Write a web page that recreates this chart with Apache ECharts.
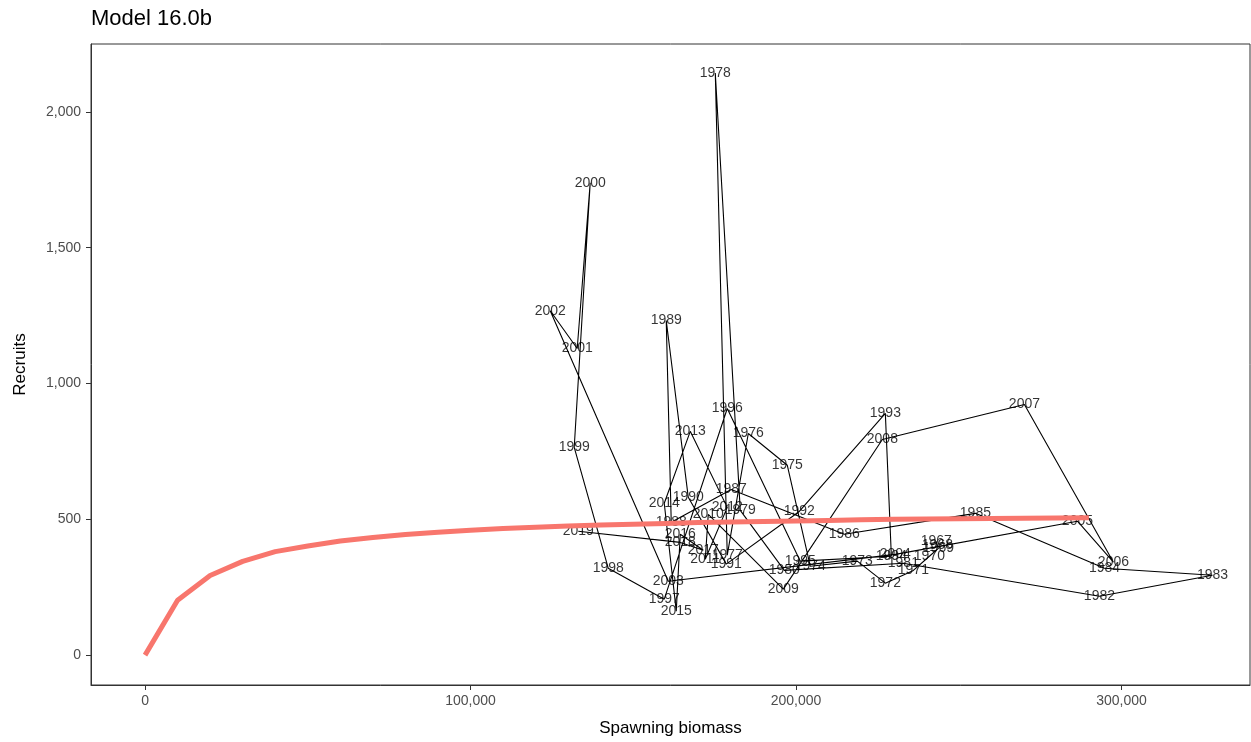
<!DOCTYPE html>
<html>
<head>
<meta charset="utf-8">
<script src="https://cdn.jsdelivr.net/npm/echarts@6/dist/echarts.min.js"></script>
<style>
  html, body { margin: 0; padding: 0; background: #fff; }
  #chart { width: 1251px; height: 742px; }
</style>
</head>
<body>
<div id="chart"></div>
<script>
const years = [1967,1968,1969,1970,1971,1972,1973,1974,1975,1976,1977,1978,1979,1980,1981,1982,1983,1984,1985,1986,1987,1988,1989,1990,1991,1992,1993,1994,1995,1996,1997,1998,1999,2000,2001,2002,2003,2004,2005,2006,2007,2008,2009,2010,2011,2012,2013,2014,2015,2016,2017,2018,2019];
const ssb = [243100,243450,243760,240990,236070,227460,218850,204410,197340,185350,178890,175210,182890,196420,232990,293240,327970,294780,255130,214860,180120,161680,160140,166910,178590,201030,227460,229310,201330,178890,159530,142320,131870,136780,132790,124490,160760,230530,286480,297540,270190,226540,196110,173050,172130,178890,167520,159530,163220,164450,171520,164450,133100];
const recruits = [419,404,393,364,312,265,346,327,699,816,368,2143,533,312,338,217,294,320,522,445,610,489,1232,581,335,529,890,364,346,908,206,320,765,1739,1129,1268,272,371,493,342,923,794,243,518,353,544,824,559,162,445,386,415,456];

const curveSSB = [0,10000,20000,30000,40000,50000,60000,70000,80000,90000,100000,110000,120000,130000,140000,150000,160000,170000,180000,190000,200000,210000,220000,230000,240000,250000,260000,270000,280000,290000];
const curveRecruits = [0,202,293,345,381,402,420,433,444,452,460,466,471,475,479,482,485,488,490,492,494,496,498,500,501,502,503,504,505,506];

const xTicks = [0,100000,200000,300000];
const yTicks = [0,500,1000,1500,2000];

const fmt = v => Number(v).toLocaleString('en-US');
const FONT = "'Liberation Sans', Arial, Helvetica, sans-serif";

const pathData = years.map((y, i) => [ssb[i], recruits[i]]);
const labelData = years.map((y, i) => [ssb[i], recruits[i], String(y)]);
const curveData = curveSSB.map((s, i) => [s, curveRecruits[i]]);

const chart = echarts.init(document.getElementById('chart'), null, { renderer: 'canvas' });
chart.setOption({
  animation: false,
  backgroundColor: '#ffffff',
  textStyle: { fontFamily: FONT },
  title: {
    text: 'Model 16.0b',
    left: 91, top: 8, padding: 0,
    textStyle: { fontFamily: FONT, fontSize: 22, fontWeight: 'normal', color: '#000' }
  },
  grid: {
    left: 91, right: 1, top: 44, bottom: 56,
    show: true, borderColor: '#333333', borderWidth: 1, backgroundColor: 'transparent'
  },
  xAxis: {
    type: 'value',
    min: -16600, max: 339500,
    name: 'Spawning biomass',
    nameLocation: 'middle', nameGap: 35,
    nameTextStyle: { fontFamily: FONT, fontSize: 17, color: '#000' },
    axisLine: { show: true, onZero: false, lineStyle: { color: '#333333', width: 1 } },
    splitLine: { show: false },
    axisTick: { show: true, inside: false, length: 5, lineStyle: { color: '#333333', width: 1 }, customValues: xTicks },
    axisLabel: { color: '#4D4D4D', fontSize: 14, fontFamily: FONT, margin: 9, customValues: xTicks, formatter: v => fmt(v) }
  },
  yAxis: {
    type: 'value',
    min: -110, max: 2250,
    name: 'Recruits',
    nameLocation: 'middle', nameGap: 62,
    nameTextStyle: { fontFamily: FONT, fontSize: 17, color: '#000' },
    axisLine: { show: true, onZero: false, lineStyle: { color: '#333333', width: 1 } },
    splitLine: { show: false },
    axisTick: { show: true, inside: false, length: 5, lineStyle: { color: '#333333', width: 1 }, customValues: yTicks },
    axisLabel: { color: '#4D4D4D', fontSize: 14, fontFamily: FONT, margin: 10, customValues: yTicks, formatter: v => fmt(v) }
  },
  series: [
    {
      type: 'line',
      data: pathData,
      showSymbol: false,
      symbol: 'none',
      lineStyle: { color: '#000', width: 1.1 },
      z: 2,
      silent: true
    },
    {
      type: 'scatter',
      data: labelData,
      symbolSize: 1,
      itemStyle: { color: 'rgba(0,0,0,0)' },
      label: {
        show: true,
        position: 'inside',
        formatter: p => p.data[2],
        color: '#000',
        fontSize: 14,
        fontFamily: FONT
      },
      z: 3,
      silent: true
    },
    {
      type: 'line',
      data: curveData,
      showSymbol: false,
      symbol: 'none',
      lineStyle: { color: '#F8766D', width: 5 },
      z: 4,
      silent: true
    }
  ]
});
</script>
</body>
</html>
